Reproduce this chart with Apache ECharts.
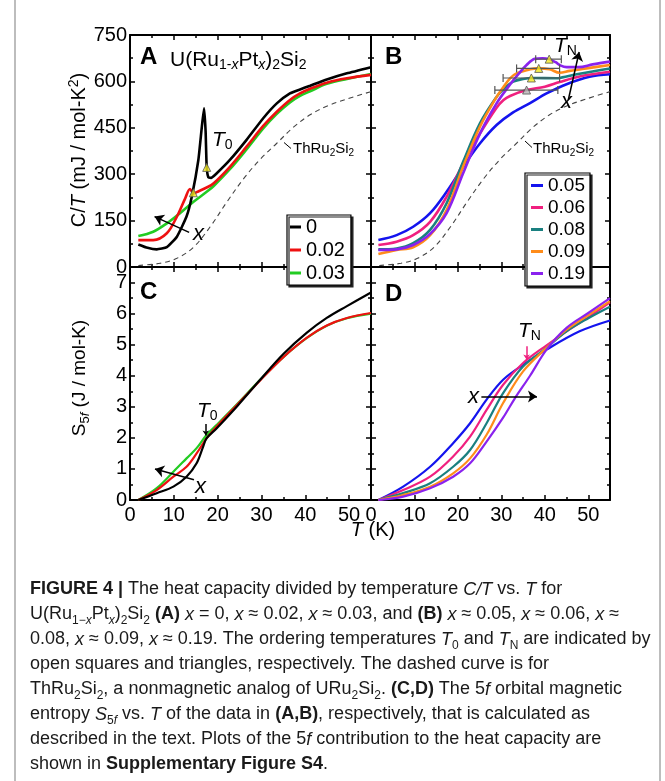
<!DOCTYPE html>
<html>
<head>
<meta charset="utf-8">
<script src="https://cdn.jsdelivr.net/npm/echarts@6/dist/echarts.min.js"></script>
<style>
html, body { margin: 0; padding: 0; background: #fff; }
#chart { width: 665px; height: 781px; }
</style>
</head>
<body>
<div id="chart"></div>
<script>
var FONT = '"Liberation Sans", Arial, Helvetica, sans-serif';

// panel A: C/T (mJ / mol-K^2) vs T (K), pairs [T, C/T]
var ctA_x0 = [[1.9,73],[4,62],[6.1,57],[8.4,64],[10.7,98],[12.9,163],[14.1,227],[15.6,346],[16.4,454],[16.9,513],[17.25,440],[17.5,324],[17.9,289],[18.5,288],[19.8,303],[22.8,346],[26.6,411],[30.4,481],[33.5,529],[36.5,561],[38.8,574],[41.1,586],[44.9,606],[49.5,626],[55,646]];
var ctA_x002 = [[1.9,87],[5.3,87],[8.4,109],[10.7,163],[12.6,222],[13.7,252],[14.5,238],[15.2,242],[17.5,257],[19.1,271],[22.8,324],[26.6,389],[30.4,456],[33.5,502],[36.5,540],[38.8,561],[41.1,576],[44.9,596],[49.5,610],[55,621]];
var ctA_x003 = [[1.9,100],[5.3,114],[8.4,141],[11.4,174],[14.5,211],[17.5,243],[19.1,262],[22.8,316],[26.6,380],[30.4,448],[33.5,495],[36.5,532],[38.8,553],[41.1,568],[44.9,592],[49.5,608],[55,624]];
var ctThRu2Si2 = [[1.9,5],[6.9,12],[10.7,28],[14.5,64],[18.3,130],[22.1,210],[25.9,285],[29.7,348],[33.5,400],[37.3,452],[41.1,492],[44.9,520],[49.5,543],[55,567]];
var t0Marks = [[17.5,322],[14.45,240]];

// panel B
var ctB_x005 = [[1.7,87],[5.9,103],[9.7,130],[13.6,174],[17.4,243],[21.2,324],[25.1,400],[28.9,459],[32.7,500],[36.6,530],[40.4,561],[45,591],[50.3,615],[55,623]];
var ctB_x006 = [[1.7,71],[5.9,82],[9.7,103],[13.6,146],[17.4,227],[21.2,335],[25.1,432],[28.9,515],[30.5,540],[32,553],[35.8,572],[40,583],[43.4,598],[48,616],[55,631]];
var ctB_x008 = [[1.7,57],[5.9,60],[9.7,77],[13.6,120],[17.4,206],[21.2,340],[25.1,465],[28.9,550],[30.5,575],[32.7,599],[35,608],[37.3,611],[42.7,610],[44,613],[48,625],[55,642]];
var ctB_x009 = [[1.7,42],[5.9,55],[9.7,64],[13.6,103],[17.4,184],[21.2,324],[25.1,454],[28.9,550],[30.4,580],[32,610],[33.5,626],[36.6,639],[38.5,642],[41.1,639],[43.4,628],[45.7,634],[50,643],[55,653]];
var ctB_x019 = [[1.7,55],[5.9,57],[9.7,71],[13.6,107],[17.4,174],[21.2,303],[25.1,432],[28.9,529],[32,590],[34,625],[35.8,653],[37.7,673],[39.5,675],[41,672],[42.5,662],[43.4,653],[45,646],[47.8,646],[51,655],[55,664]];
var tnMarks = [[35.8,572],[36.9,611],[38.6,642],[41,672]];
var tnErr = [[28.5,43,572],[30.4,43.4,611],[33.5,43.4,642],[37.9,43.8,672]];

// panel C: S5f (J / mol-K)
var sC_x0 = [[1.9,0],[6.1,0.22],[9.9,0.43],[12.9,0.75],[15.2,1.18],[16.7,1.72],[17.5,1.99],[19.8,2.31],[24.4,3.01],[29.7,3.87],[35,4.7],[40.3,5.38],[44.9,5.86],[49.5,6.24],[55,6.68]];
var sC_x002 = [[1.9,0],[6.1,0.32],[9.9,0.75],[12.9,1.07],[15.2,1.5],[17.5,1.99],[19.8,2.37],[24.4,3.06],[29.7,3.85],[35,4.6],[40.3,5.22],[44.9,5.62],[49.5,5.86],[55,6.02]];
var sC_x003 = [[1.9,0],[6.1,0.38],[9.9,0.91],[12.9,1.34],[15.2,1.67],[17.5,2.1],[19.8,2.42],[24.4,3.08],[29.7,3.87],[35,4.6],[40.3,5.21],[44.9,5.61],[49.5,5.85],[55,6.0]];

// panel D
var sD_x005 = [[1.7,0],[7.4,0.43],[13.6,1.07],[18.9,1.83],[22.8,2.47],[26.6,3.23],[30.4,3.87],[35,4.35],[40.4,4.84],[48,5.43],[55,5.78]];
var sD_x006 = [[1.7,0],[7.4,0.32],[13.6,0.75],[18.9,1.4],[22.8,2.04],[26.6,2.9],[30.4,3.71],[35,4.41],[40.4,4.98],[45,5.43],[50.3,5.91],[55,6.36]];
var sD_x008 = [[1.7,0],[7.4,0.22],[13.6,0.54],[18.9,1.07],[22.8,1.61],[26.6,2.47],[30.4,3.44],[35,4.3],[40.4,4.9],[45,5.43],[50,5.85],[55,6.22]];
var sD_x009 = [[1.7,0],[7.4,0.16],[13.6,0.43],[18.9,0.86],[22.8,1.34],[26.6,2.1],[30.4,3.12],[35,4.14],[40.4,4.9],[45,5.48],[50,5.95],[55,6.4]];
var sD_x019 = [[1.7,0],[7.4,0.11],[13.6,0.38],[18.9,0.75],[22.8,1.18],[26.6,1.88],[30.4,2.65],[33,3.25],[36.6,4.0],[40.4,4.84],[45,5.54],[50,6.02],[55,6.5]];

var namesA = ['0', '0.02', '0.03'];
var namesB = ['0.05', '0.06', '0.08', '0.09', '0.19'];
var colorsA = ['#000000', '#ee1111', '#22cc22'];
var colorsB = ['#1414ee', '#f0207f', '#1a8080', '#ff8c1a', '#8a22ee'];

var grids = [
	{left: 130, top: 35, width: 241, height: 232},
	{left: 371, top: 35, width: 239, height: 232},
	{left: 130, top: 267, width: 241, height: 233},
	{left: 371, top: 267, width: 239, height: 233}
];

function xAx(g, pos, lab) {
	return {
		type: 'value', gridIndex: g, position: pos, min: 0, max: 55, interval: 10,
		axisLine: {onZero: false, lineStyle: {color: '#000', width: 2}},
		axisTick: {inside: true, length: 5, lineStyle: {color: '#000', width: 1.5}},
		minorTick: {show: true, splitNumber: 2, length: 3, lineStyle: {color: '#000', width: 1.5}},
		splitLine: {show: false},
		axisLabel: {show: lab, showMaxLabel: false, color: '#000', fontSize: 20, fontFamily: FONT, margin: 5}
	};
}
function yAx(g, pos, lab, max, step) {
	return {
		type: 'value', gridIndex: g, position: pos, min: 0, max: max, interval: step,
		axisLine: {onZero: false, lineStyle: {color: '#000', width: 2}},
		axisTick: {inside: true, length: 5, lineStyle: {color: '#000', width: 1.5}},
		minorTick: {show: true, splitNumber: 2, length: 3, lineStyle: {color: '#000', width: 1.5}},
		splitLine: {show: false},
		axisLabel: {show: lab, showMaxLabel: max == 750, color: '#000', fontSize: 20, fontFamily: FONT, margin: 3}
	};
}

var xAxes = [xAx(0,'bottom',false), xAx(1,'bottom',false), xAx(2,'bottom',true), xAx(3,'bottom',true),
	xAx(0,'top',false), xAx(1,'top',false), xAx(2,'top',false), xAx(3,'top',false)];
var yAxes = [yAx(0,'left',true,750,150), yAx(1,'left',false,750,150), yAx(2,'left',true,7.5,1), yAx(3,'left',false,7.5,1),
	yAx(0,'right',false,750,150), yAx(1,'right',false,750,150), yAx(2,'right',false,7.5,1), yAx(3,'right',false,7.5,1)];

function line(name, data, color, g, width, extra) {
	return Object.assign({
		type: 'line', name: name, data: data, xAxisIndex: g, yAxisIndex: g,
		symbol: 'none', showSymbol: false, smooth: 0.35,
		lineStyle: {color: color, width: width}, itemStyle: {color: color},
		silent: true, animation: false
	}, extra || {});
}

function arrow(a, b, color, size) {
	return [{coord: a, symbol: 'none'}, {coord: b, symbol: 'arrow', symbolSize: size || 9, lineStyle: {color: color || '#000'}}];
}
function arrows(list, color) {
	return {
		silent: true, animation: false, symbol: ['none', 'arrow'],
		lineStyle: {color: color || '#000', width: 1.5, type: 'solid'},
		label: {show: false}, emphasis: {disabled: true},
		data: list
	};
}

var dashStyle = {type: [5, 4], width: 1.1, color: '#444'};

var series = [
	line('ThRu2Si2', ctThRu2Si2, '#444', 0, 1.1, {lineStyle: dashStyle}),
	line(namesA[2], ctA_x003, colorsA[2], 0, 2.6),
	line(namesA[1], ctA_x002, colorsA[1], 0, 2.6),
	line(namesA[0], ctA_x0, colorsA[0], 0, 2.6, {smooth: 0.15,
		markLine: arrows([arrow([13.5, 112], [5.6, 163])])}),
	{type: 'scatter', name: 'T0', data: t0Marks, xAxisIndex: 0, yAxisIndex: 0, symbol: 'triangle', symbolSize: 8,
		itemStyle: {color: '#f4ea1c', borderColor: '#555', borderWidth: 1}, silent: true, animation: false, z: 5},

	line('ThRu2Si2 B', ctThRu2Si2, '#444', 1, 1.1, {lineStyle: dashStyle}),
	line(namesB[0], ctB_x005, colorsB[0], 1, 2.6, {markLine: arrows([arrow([45.4, 540], [47.9, 695])])}),
	line(namesB[1], ctB_x006, colorsB[1], 1, 2.6),
	line(namesB[2], ctB_x008, colorsB[2], 1, 2.6),
	line(namesB[3], ctB_x009, colorsB[3], 1, 2.6),
	line(namesB[4], ctB_x019, colorsB[4], 1, 2.6),
	{type: 'custom', name: 'TN err', data: tnErr, xAxisIndex: 1, yAxisIndex: 1, silent: true, animation: false, z: 4,
		encode: {x: [0, 1], y: 2},
		renderItem: function (params, api) {
			var lo = api.coord([api.value(0), api.value(2)]);
			var hi = api.coord([api.value(1), api.value(2)]);
			var st = {stroke: '#555', lineWidth: 1.2};
			return {type: 'group', children: [
				{type: 'line', shape: {x1: lo[0], y1: lo[1], x2: hi[0], y2: hi[1]}, style: st},
				{type: 'line', shape: {x1: lo[0], y1: lo[1] - 4, x2: lo[0], y2: lo[1] + 4}, style: st},
				{type: 'line', shape: {x1: hi[0], y1: hi[1] - 4, x2: hi[0], y2: hi[1] + 4}, style: st}
			]};
		}},
	{type: 'scatter', name: 'TN', xAxisIndex: 1, yAxisIndex: 1, symbol: 'triangle', symbolSize: 8,
		data: tnMarks.map(function (p, i) {
			return {value: p, itemStyle: {color: i === 0 ? '#b4b4b4' : '#f4ea1c'}};
		}),
		itemStyle: {borderColor: '#555', borderWidth: 1}, silent: true, animation: false, z: 5},

	line(namesA[2], sC_x003, colorsA[2], 2, 2.2),
	line(namesA[1], sC_x002, colorsA[1], 2, 2.2),
	line(namesA[0], sC_x0, colorsA[0], 2, 2.2, {
		markLine: arrows([arrow([14.6, 0.65], [5.7, 1.0]), arrow([17.3, 2.45], [17.3, 2.08], '#000', 5)])}),

	line(namesB[0], sD_x005, colorsB[0], 3, 2.2, {
		markLine: arrows([arrow([25.4, 3.33], [38.2, 3.33]), arrow([35.8, 4.95], [35.8, 4.52], '#f0207f', 5)])}),
	line(namesB[1], sD_x006, colorsB[1], 3, 2.2),
	line(namesB[2], sD_x008, colorsB[2], 3, 2.2),
	line(namesB[3], sD_x009, colorsB[3], 3, 2.2),
	line(namesB[4], sD_x019, colorsB[4], 3, 2.2)
];

function legendBox(names, left, top, size, iconW, pad) {
	return {
		data: names, orient: 'vertical', left: left, top: top, icon: 'rect',
		itemWidth: iconW, itemHeight: 3, itemGap: 3, padding: pad, selectedMode: false,
		backgroundColor: '#fff', borderColor: '#000', borderWidth: 1.2,
		shadowColor: '#222', shadowOffsetX: 2, shadowOffsetY: 2, shadowBlur: 0,
		textStyle: {fontSize: size, lineHeight: size, color: '#000', fontFamily: FONT}
	};
}

function rt(x, y, text, size, opts) {
	opts = opts || {};
	var sub = Math.round(size * 0.68);
	var rich = {
		n: {fontSize: size, fontFamily: FONT, lineHeight: size + 4},
		i: {fontStyle: 'italic', fontSize: size, fontFamily: FONT, lineHeight: size + 4},
		b: {fontWeight: 'bold', fontSize: size, fontFamily: FONT, lineHeight: size + 4},
		s: {fontSize: sub, fontFamily: FONT, lineHeight: Math.round(size * 0.5 + 4), verticalAlign: 'bottom'},
		si: {fontStyle: 'italic', fontSize: sub, fontFamily: FONT, lineHeight: Math.round(size * 0.5 + 4), verticalAlign: 'bottom'},
		sup: {fontSize: sub, fontFamily: FONT, lineHeight: Math.round(size * 0.3 + 4), verticalAlign: 'top'}
	};
	return {
		type: 'text', x: x, y: y, rotation: opts.rot || 0, silent: true, z: 20,
		style: {
			text: text, rich: rich, fontSize: size, fontFamily: FONT, lineHeight: size + 4,
			fontWeight: opts.bold ? 'bold' : 'normal', fill: opts.color || '#000',
			align: opts.align || 'left', verticalAlign: 'middle'
		}
	};
}
function seg(x1, y1, x2, y2, color, w) {
	return {type: 'line', silent: true, z: 20, shape: {x1: x1, y1: y1, x2: x2, y2: y2},
		style: {stroke: color || '#000', lineWidth: w || 1}};
}

// caption
var capSize = 18;
var capRich = {
	b: {fontWeight: 'bold', fontSize: capSize, fontFamily: FONT, lineHeight: 25},
	i: {fontStyle: 'italic', fontSize: capSize, fontFamily: FONT, lineHeight: 25},
	s: {fontSize: 12, fontFamily: FONT, lineHeight: 15, verticalAlign: 'bottom'},
	si: {fontStyle: 'italic', fontSize: 12, fontFamily: FONT, lineHeight: 15, verticalAlign: 'bottom'}
};
var captionLines = [
	'{b|FIGURE 4 |} The heat capacity divided by temperature {i|C/T} vs. {i|T} for',
	'U(Ru{s|1−}{si|x}Pt{si|x}){s|2}Si{s|2} {b|(A)} {i|x} = 0, {i|x} ≈ 0.02, {i|x} ≈ 0.03, and {b|(B)} {i|x} ≈ 0.05, {i|x} ≈ 0.06, {i|x} ≈',
	'0.08, {i|x} ≈ 0.09, {i|x} ≈ 0.19. The ordering temperatures {i|T}{s|0} and {i|T}{s|N} are indicated by',
	'open squares and triangles, respectively. The dashed curve is for',
	'ThRu{s|2}Si{s|2}, a nonmagnetic analog of URu{s|2}Si{s|2}. {b|(C,D)} The 5{i|f} orbital magnetic',
	'entropy {i|S}{s|5}{si|f} vs. {i|T} of the data in {b|(A,B)}, respectively, that is calculated as',
	'described in the text. Plots of the 5{i|f} contribution to the heat capacity are',
	'shown in {b|Supplementary Figure S4}.'
];

var graphics = [
	seg(15, 0, 15, 781, '#bdbdbd', 2),
	seg(660, 0, 660, 781, '#bdbdbd', 2),
	rt(140, 57, 'A', 24, {bold: true}),
	rt(170, 60, 'U(Ru{s|1-}{si|x}Pt{si|x}){s|2}Si{s|2}', 21),
	rt(212, 140, '{i|T}{s|0}', 21),
	rt(293, 149, 'ThRu{s|2}Si{s|2}', 15),
	seg(284, 142.5, 291, 148.5),
	rt(193, 234, '{i|x}', 22),
	rt(385, 57, 'B', 24, {bold: true}),
	rt(554, 46, '{i|T}{s|N}', 21),
	rt(561, 102, '{i|x}', 22),
	rt(533, 149, 'ThRu{s|2}Si{s|2}', 15),
	seg(525, 141, 532, 147.5),
	rt(140, 292, 'C', 24, {bold: true}),
	rt(197, 411, '{i|T}{s|0}', 21),
	rt(195, 487, '{i|x}', 22),
	rt(385, 294, 'D', 24, {bold: true}),
	rt(518, 331, '{i|T}{s|N}', 21),
	rt(468, 397, '{i|x}', 22),
	rt(373, 530, '{i|T} (K)', 20, {align: 'center'}),
	rt(79, 150, 'C/{i|T} (mJ / mol-K{sup|2})', 20, {rot: Math.PI / 2, align: 'center'}),
	rt(80, 378, 'S{s|5}{si|f} (J / mol-K)', 19, {rot: Math.PI / 2, align: 'center'}),
	{type: 'text', x: 30, y: 577, silent: true, z: 20,
		style: {text: captionLines.join('\n'), rich: capRich, fontSize: capSize, fontFamily: FONT,
			lineHeight: 25, fill: '#1a1a1a'}}
];

var chart = echarts.init(document.getElementById('chart'));
var option = {
	backgroundColor: '#fff',
	animation: false,
	grid: grids,
	xAxis: xAxes,
	yAxis: yAxes,
	legend: [
		legendBox(namesA, 287, 215, 20, 11, [2, 6, 2, 3]),
		legendBox(namesB, 525, 173, 19, 12, [3, 5, 3, 6])
	],
	series: series,
	graphic: graphics
};
chart.setOption(option);
</script>
</body>
</html>
